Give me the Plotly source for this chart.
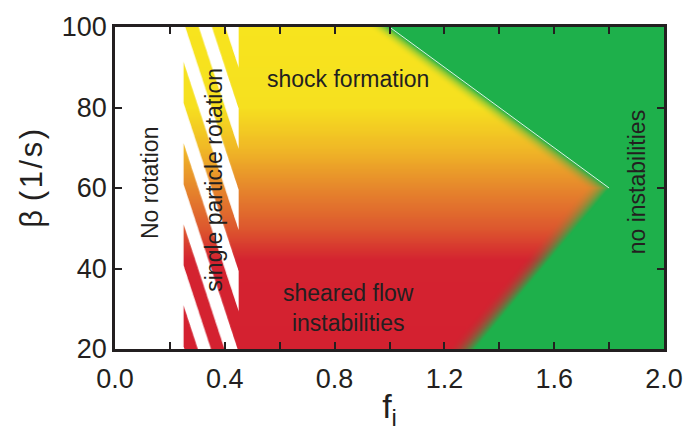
import base64
import struct
import zlib

import numpy as np
import plotly.graph_objects as go

# ---------------- data ----------------
x_ticks = [0.0, 0.2, 0.4, 0.6, 0.8, 1.0, 1.2, 1.4, 1.6, 1.8, 2.0]
x_labels = ["0.0", "", "0.4", "", "0.8", "", "1.2", "", "1.6", "", "2.0"]
y_ticks = [20, 40, 60, 80, 100]
y_labels = ["20", "40", "60", "80", "100"]

# regime limits
no_rotation_max = 0.25          # f_i below: no rotation (white)
single_particle_max = 0.45      # f_i between: single particle rotation (striped)

# boundary of the "no instabilities" region (green)
boundary_beta = [20, 60, 100]
boundary_f = [1.31, 1.80, 1.00]
blend_width = [0.10, 0.09, 0.08]

# vertical colour gradient (beta -> rgb)
grad_beta = [20, 42, 50, 60, 70, 80, 100]
grad_r = [212, 212, 221, 230, 240, 246, 247]
grad_g = [33, 35, 88, 135, 185, 224, 228]
grad_b = [48, 48, 46, 44, 38, 31, 30]
green_rgb = [30, 176, 75]

# diagonal white stripes in the single-particle-rotation band
stripe_phase = 0.305
stripe_period = 0.097
stripe_width = 0.048
stripe_slope = 208.0   # d(beta)/d(f)

# labels
label_text = ["No rotation", "single particle rotation", "shock formation",
              "sheared flow<br>instabilities", "no instabilities"]
label_f = [0.13, 0.36, 0.85, 0.85, 1.9]
label_beta = [61.4, 62.0, 87.0, 30.3, 61.3]
label_angle = [-90, -90, 0, 0, -90]

x_range = [0.0, 2.0]
y_range = [20, 100]

# ---------------- layout geometry ----------------
W, H = 695, 434
ml, mr, mt, mb = 115, 22, 15, 85
pw, ph = W - ml - mr, H - mt - mb

# ---------------- raster of the regime map ----------------
ss = 3
nx, ny = pw * ss, ph * ss
f = x_range[0] + (np.arange(nx) + 0.5) / nx * (x_range[1] - x_range[0])
b = y_range[1] - (np.arange(ny) + 0.5) / ny * (y_range[1] - y_range[0])
F, B = np.meshgrid(f, b)

grad = np.stack([np.interp(B, grad_beta, grad_r),
                 np.interp(B, grad_beta, grad_g),
                 np.interp(B, grad_beta, grad_b)], axis=-1)

edge = np.interp(B, boundary_beta, boundary_f)
bw = np.interp(B, boundary_beta, blend_width)
t = np.clip((F - (edge - bw)) / bw, 0, 1)
t = np.where(F >= edge, 1.0, t ** 2.0)[..., None]
img = (1 - t) * grad + t * np.array(green_rgb, dtype=float)

white = np.array([255.0, 255.0, 255.0])
img[F < no_rotation_max] = white
band = (F >= no_rotation_max) & (F < single_particle_max)
phase = np.mod(F - stripe_phase - (y_range[1] - B) / stripe_slope, stripe_period)
img[band & (phase < stripe_width)] = white

img = img.reshape(ph, ss, pw, ss, 3).mean(axis=(1, 3))
img = np.clip(np.round(img), 0, 255).astype(np.uint8)


def png_uri(arr):
    h, w, _ = arr.shape
    raw = b"".join(b"\x00" + arr[i].tobytes() for i in range(h))

    def chunk(tag, data):
        c = struct.pack(">I", len(data)) + tag + data
        return c + struct.pack(">I", zlib.crc32(tag + data) & 0xFFFFFFFF)

    png = (b"\x89PNG\r\n\x1a\n"
           + chunk(b"IHDR", struct.pack(">IIBBBBB", w, h, 8, 2, 0, 0, 0))
           + chunk(b"IDAT", zlib.compress(raw, 9))
           + chunk(b"IEND", b""))
    return "data:image/png;base64," + base64.b64encode(png).decode()


# ---------------- figure ----------------
FONT = "Liberation Sans, Arial, Helvetica, sans-serif"
INK = "#231F20"

fig = go.Figure()

# thin white line along the upper boundary of the green region
fig.add_trace(go.Scatter(
    x=[boundary_f[2], boundary_f[1]], y=[boundary_beta[2], boundary_beta[1]],
    mode="lines", line=dict(color="rgba(255,255,255,0.85)", width=1),
    hoverinfo="skip", showlegend=False))

fig.add_layout_image(dict(
    source=png_uri(img), xref="x", yref="y",
    x=x_range[0], y=y_range[1],
    sizex=x_range[1] - x_range[0], sizey=y_range[1] - y_range[0],
    xanchor="left", yanchor="top", sizing="stretch", layer="below"))

for txt, fx, by, ang in zip(label_text, label_f, label_beta, label_angle):
    fig.add_annotation(x=fx, y=by, text=txt, textangle=ang, showarrow=False,
                       font=dict(family=FONT, size=23, color=INK),
                       align="center", xanchor="center", yanchor="middle")

# y-axis title (placed as annotation to match reference position)
HS = "\u200a"
fig.add_annotation(xref="paper", yref="paper", x=(30 - ml) / pw, y=(mt + ph - 172) / ph,
                   text="β " + HS.join(["(", "1", "/", "s", ")"]), textangle=-90,
                   showarrow=False, xanchor="center", yanchor="middle",
                   font=dict(family=FONT, size=31, color=INK))

axis_common = dict(
    showline=True, linecolor=INK, linewidth=2.5, mirror="ticks",
    ticks="inside", ticklen=7, tickwidth=2, tickcolor=INK,
    showgrid=False, zeroline=False,
    tickfont=dict(family=FONT, size=27, color=INK),
)

fig.update_layout(
    width=W, height=H,
    margin=dict(l=ml, r=mr, t=mt, b=mb, pad=0),
    paper_bgcolor="white", plot_bgcolor="rgba(0,0,0,0)",
    showlegend=False,
    xaxis=dict(range=x_range, tickmode="array", tickvals=x_ticks, ticktext=x_labels,
               ticklabelstandoff=4,
               title=dict(text="f<sub>i</sub>", font=dict(family=FONT, size=34, color=INK),
                          standoff=2),
               **axis_common),
    yaxis=dict(range=y_range, tickmode="array", tickvals=y_ticks, ticktext=y_labels,
               **axis_common),
)

fig.write_html("out.html")
